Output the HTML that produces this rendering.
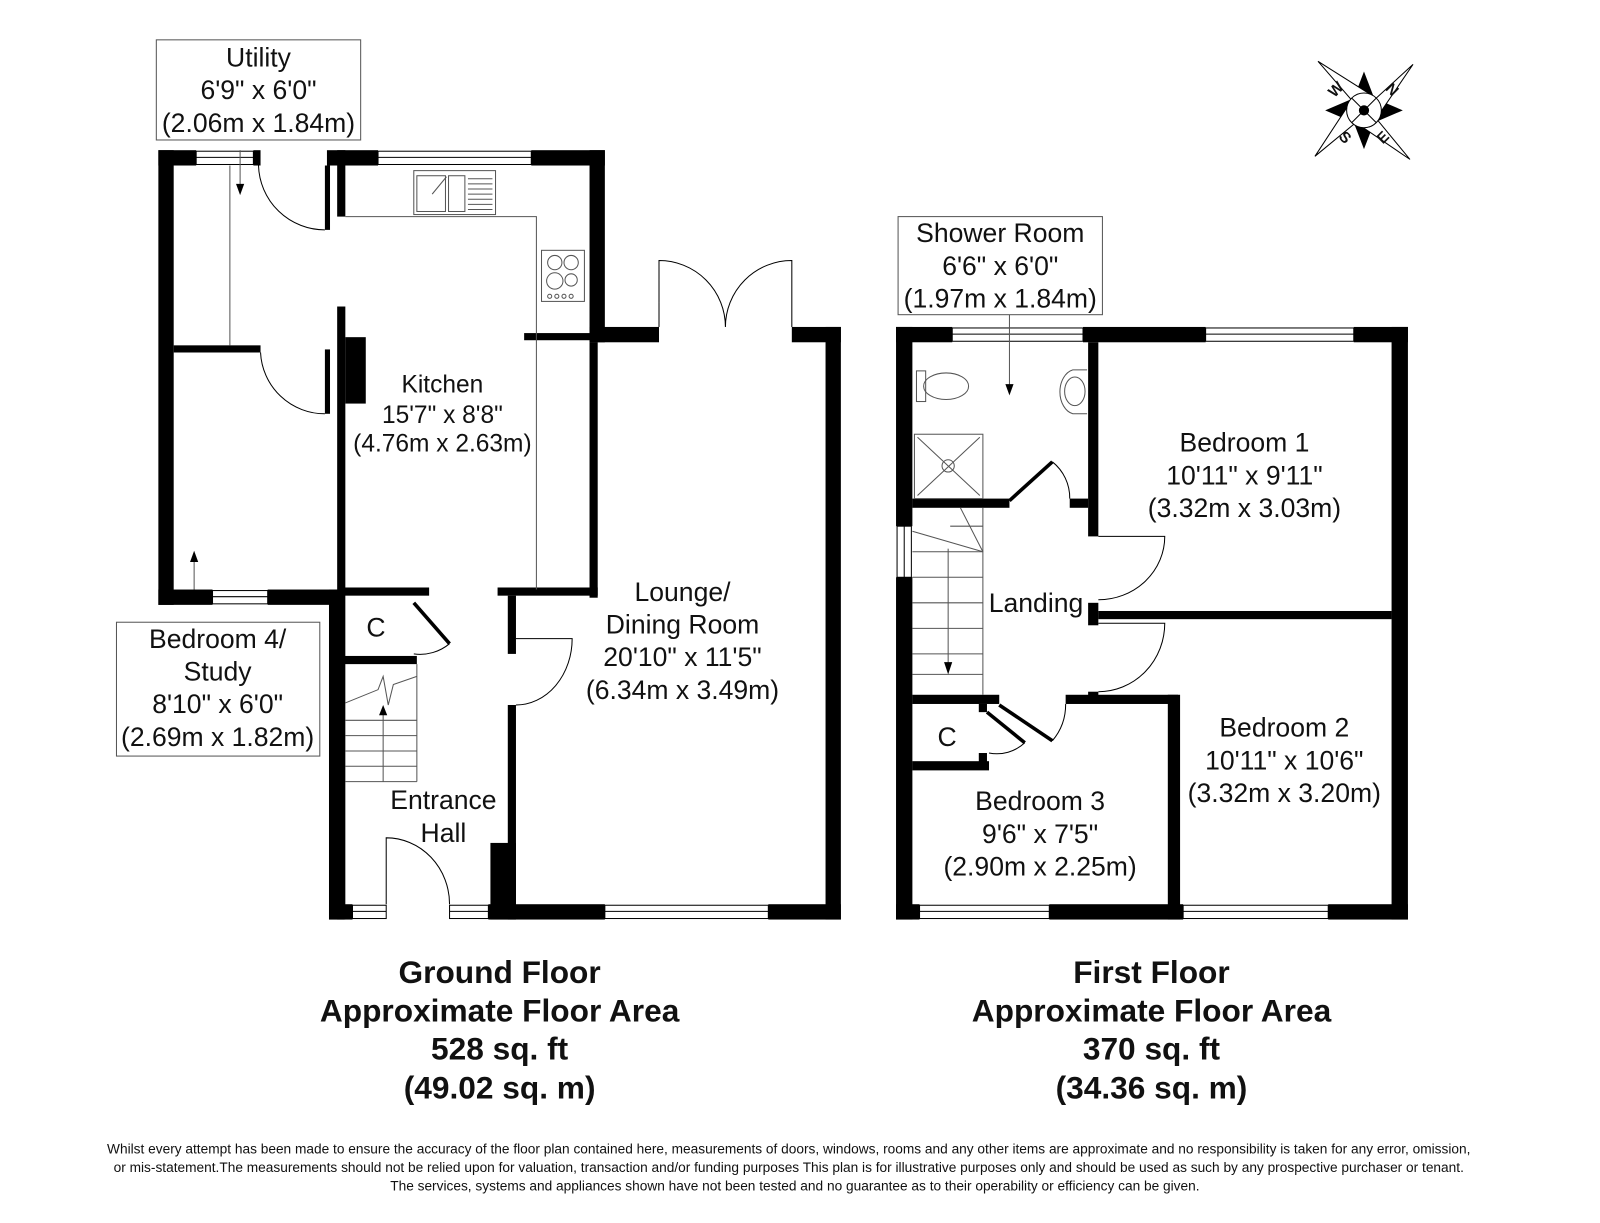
<!DOCTYPE html>
<html><head><meta charset="utf-8"><style>html,body{margin:0;padding:0;background:#fff}svg{display:block}text{font-family:"Liberation Sans",Arial,sans-serif;fill:#111}</style></head><body>
<svg width="1600" height="1223" viewBox="0 0 1566 1197" preserveAspectRatio="none" xmlns="http://www.w3.org/2000/svg">
<rect width="1566" height="1197" fill="#fff"/>
<g fill="#000">
<rect x="155" y="147" width="15" height="445"/>
<rect x="155" y="147" width="37" height="15"/>
<rect x="248" y="147" width="7" height="15"/>
<rect x="170" y="338" width="85" height="7"/>
<rect x="155" y="577" width="53" height="15"/>
<rect x="262" y="577" width="75" height="15"/>
<rect x="318" y="162" width="5" height="63"/>
<rect x="318" y="342" width="5" height="63"/>
<rect x="320" y="147" width="50" height="15"/>
<rect x="520" y="147" width="72" height="15"/>
<rect x="330" y="147" width="8" height="65"/>
<rect x="330" y="300" width="8" height="600"/>
<rect x="338" y="330" width="20" height="65"/>
<rect x="322" y="577" width="15" height="323"/>
<rect x="577" y="147" width="15" height="188"/>
<rect x="513" y="326" width="64" height="7"/>
<rect x="577" y="320" width="68" height="15"/>
<rect x="577" y="335" width="8" height="250"/>
<rect x="775" y="320" width="48" height="15"/>
<rect x="808" y="320" width="15" height="580"/>
<rect x="337" y="575" width="83" height="8"/>
<rect x="487" y="575" width="98" height="8"/>
<rect x="497" y="583" width="8" height="57"/>
<rect x="497" y="690" width="8" height="210"/>
<rect x="480" y="825" width="25" height="75"/>
<rect x="337" y="642" width="71" height="8"/>
<rect x="322" y="885" width="23" height="15"/>
<rect x="478" y="885" width="114" height="15"/>
<rect x="752" y="885" width="71" height="15"/>
<rect x="877" y="320" width="16" height="195"/>
<rect x="877" y="565" width="16" height="335"/>
<rect x="877" y="320" width="55" height="15"/>
<rect x="1060" y="320" width="120" height="15"/>
<rect x="1325" y="320" width="53" height="15"/>
<rect x="1362" y="320" width="16" height="580"/>
<rect x="877" y="885" width="23" height="15"/>
<rect x="1027" y="885" width="131" height="15"/>
<rect x="1300" y="885" width="78" height="15"/>
<rect x="1065" y="335" width="10" height="190"/>
<rect x="1065" y="590" width="10" height="22"/>
<rect x="1065" y="677" width="10" height="5"/>
<rect x="1075" y="598" width="287" height="8"/>
<rect x="893" y="488" width="95" height="9"/>
<rect x="1047" y="488" width="18" height="9"/>
<rect x="893" y="680" width="85" height="9"/>
<rect x="958" y="689" width="8" height="8"/>
<rect x="1043" y="680" width="110" height="9"/>
<rect x="1143" y="680" width="12" height="220"/>
<rect x="893" y="745" width="75" height="9"/>
<rect x="958" y="737" width="8" height="10"/>
</g>
<g fill="none" stroke="#000" stroke-width="1">
<rect x="192" y="148" width="56" height="13"/><line x1="192" y1="154" x2="248" y2="154"/>
<rect x="208" y="578" width="54" height="13"/><line x1="208" y1="584" x2="262" y2="584"/>
<rect x="370" y="148" width="150" height="13"/><line x1="370" y1="154" x2="520" y2="154"/>
<rect x="592" y="886" width="160" height="13"/><line x1="592" y1="892" x2="752" y2="892"/>
<rect x="345" y="886" width="33" height="13"/><line x1="345" y1="892" x2="378" y2="892"/>
<rect x="440" y="886" width="38" height="13"/><line x1="440" y1="892" x2="478" y2="892"/>
<rect x="932" y="321" width="128" height="13"/><line x1="932" y1="327" x2="1060" y2="327"/>
<rect x="1180" y="321" width="145" height="13"/><line x1="1180" y1="327" x2="1325" y2="327"/>
<rect x="900" y="886" width="127" height="13"/><line x1="900" y1="892" x2="1027" y2="892"/>
<rect x="1158" y="886" width="142" height="13"/><line x1="1158" y1="892" x2="1300" y2="892"/>
<rect x="878" y="515" width="14" height="50"/><line x1="885" y1="515" x2="885" y2="565"/>
<path d="M253 162 A65 65 0 0 0 318 225"/>
<path d="M255 345 A63 63 0 0 0 318 405"/>
<path d="M645 320 V255 A65 65 0 0 1 710 320 A65 65 0 0 1 775 255 V320"/>
<path d="M505 625 H560 A55 65 0 0 1 505 690"/>
<path d="M378 885 V820 A62 65 0 0 1 440 885"/>
<path d="M440 630 A45 45 0 0 1 405 640"/>
<path d="M1075 525 H1140 A65 62 0 0 1 1075 587"/>
<path d="M1075 610 H1140 A65 67 0 0 1 1075 677"/>
<path d="M1030 452 A45 45 0 0 1 1047 488"/>
<path d="M1030 725 A55 55 0 0 0 1043 689"/>
<path d="M1003 727 A40 40 0 0 1 968 737"/>
</g>
<g stroke="#000" stroke-width="3.5" fill="none">
<line x1="405" y1="590" x2="440" y2="630"/>
<line x1="988" y1="490" x2="1030" y2="452"/>
<line x1="978" y1="690" x2="1030" y2="725"/>
<line x1="966" y1="697" x2="1003" y2="727"/>
</g>
<g fill="none" stroke="#555" stroke-width="1">
<line x1="225" y1="162" x2="225" y2="338"/>
<path d="M338 212 H525 V577"/>
<rect x="530" y="245" width="42" height="50"/>
<circle cx="543" cy="257" r="7"/><circle cx="559" cy="257" r="7"/><circle cx="543" cy="275" r="8"/><circle cx="559" cy="274" r="6"/>
<circle cx="538" cy="290" r="2"/><circle cx="545" cy="290" r="2"/><circle cx="552" cy="290" r="2"/><circle cx="559" cy="290" r="2"/>
<rect x="405" y="167" width="80" height="43"/>
<rect x="408" y="172" width="28" height="35"/><rect x="439" y="172" width="16" height="35"/>
<line x1="458" y1="175" x2="482" y2="175"/><line x1="458" y1="180" x2="482" y2="180"/><line x1="458" y1="185" x2="482" y2="185"/><line x1="458" y1="190" x2="482" y2="190"/><line x1="458" y1="195" x2="482" y2="195"/><line x1="458" y1="200" x2="482" y2="200"/><line x1="458" y1="205" x2="482" y2="205"/>
<line x1="423" y1="190" x2="437" y2="173"/>
<path d="M338 688 L370 675 L375 662 L380 690 L385 670 L408 662"/>
<line x1="408" y1="650" x2="408" y2="765"/>
<line x1="338" y1="705" x2="408" y2="705"/><line x1="338" y1="720" x2="408" y2="720"/><line x1="338" y1="735" x2="408" y2="735"/><line x1="338" y1="750" x2="408" y2="750"/><line x1="338" y1="765" x2="408" y2="765"/>
<line x1="375" y1="765" x2="375" y2="698"/>
<rect x="895" y="425" width="67" height="63"/><line x1="898" y1="428" x2="959" y2="485"/><line x1="959" y1="428" x2="898" y2="485"/>
<circle cx="928" cy="456" r="6"/>
<rect x="897" y="363" width="9" height="30"/><ellipse cx="926" cy="378" rx="22" ry="13"/>
<path d="M1064 362 H1050 A16 22 0 0 0 1050 405 H1064"/><ellipse cx="1052" cy="383" rx="10" ry="14"/>
<line x1="962" y1="497" x2="962" y2="680"/>
<line x1="893" y1="540" x2="962" y2="540"/><line x1="893" y1="565" x2="962" y2="565"/>
<line x1="930" y1="515" x2="962" y2="515"/><line x1="893" y1="590" x2="962" y2="590"/><line x1="893" y1="615" x2="962" y2="615"/><line x1="893" y1="640" x2="962" y2="640"/><line x1="893" y1="660" x2="962" y2="660"/>
<line x1="940" y1="497" x2="962" y2="540"/><path d="M893 520 L962 540"/>
<line x1="928" y1="537" x2="928" y2="650"/>
<line x1="235" y1="147" x2="235" y2="182"/>
<line x1="190" y1="577" x2="190" y2="548"/>
<line x1="988" y1="308" x2="988" y2="378"/>
<rect x="153" y="39" width="200" height="98"/>
<rect x="114" y="609" width="199" height="131"/>
<rect x="879" y="212" width="200" height="96"/>
</g>
<g fill="#000">
<path d="M231 180 L239 180 L235 191Z"/>
<path d="M186 550 L194 550 L190 539Z"/>
<path d="M371 700 L379 700 L375 690Z"/>
<path d="M924 648 L932 648 L928 660Z"/>
<path d="M984 376 L992 376 L988 387Z"/>
</g>
<g transform="translate(1335,108)">
<path d="M0 -38 L10 -12 L38 0 L10 12 L0 38 L-10 12 L-38 0 L-10 -12Z" fill="#000"/>
<path d="M-45 -48 L12 -12 L48 -45 L12 8 L45 48 L-8 12 L-48 45 L-12 -10Z" fill="#fff" stroke="#000" stroke-width="1"/>
<circle r="17" fill="#fff" stroke="#000"/>
<line x1="-12" y1="-12" x2="12" y2="12" stroke="#000"/><line x1="12" y1="-12" x2="-12" y2="12" stroke="#000"/>
<circle r="5" fill="#000"/>
<text x="-24" y="-17" font-size="15" font-weight="bold" transform="rotate(-45 -24 -17)" text-anchor="middle">W</text>
<text x="24" y="-17" font-size="15" font-weight="bold" transform="rotate(45 24 -17)" text-anchor="middle">N</text>
<text x="-22" y="30" font-size="15" font-weight="bold" transform="rotate(45 -22 30)" text-anchor="middle">S</text>
<text x="22" y="30" font-size="15" font-weight="bold" transform="rotate(-45 22 30)" text-anchor="middle">E</text>
</g>
<g font-size="26" text-anchor="middle">
<text x="253" y="65">Utility</text><text x="253" y="97">6'9" x 6'0"</text><text x="253" y="129">(2.06m x 1.84m)</text>
<text x="213" y="634">Bedroom 4/</text><text x="213" y="666">Study</text><text x="213" y="698">8'10" x 6'0"</text><text x="213" y="730">(2.69m x 1.82m)</text>
<text x="433" y="384" font-size="24">Kitchen</text><text x="433" y="414" font-size="24">15'7" x 8'8"</text><text x="433" y="442" font-size="24">(4.76m x 2.63m)</text>
<text x="668" y="588">Lounge/</text><text x="668" y="620">Dining Room</text><text x="668" y="652">20'10" x 11'5"</text><text x="668" y="684">(6.34m x 3.49m)</text>
<text x="368" y="623">C</text>
<text x="434" y="792">Entrance</text><text x="434" y="824">Hall</text>
<text x="979" y="237">Shower Room</text><text x="979" y="269">6'6" x 6'0"</text><text x="979" y="301">(1.97m x 1.84m)</text>
<text x="1218" y="442">Bedroom 1</text><text x="1218" y="474">10'11" x 9'11"</text><text x="1218" y="506">(3.32m x 3.03m)</text>
<text x="1014" y="599">Landing</text>
<text x="1257" y="721">Bedroom 2</text><text x="1257" y="753">10'11" x 10'6"</text><text x="1257" y="785">(3.32m x 3.20m)</text>
<text x="927" y="730">C</text>
<text x="1018" y="793">Bedroom 3</text><text x="1018" y="825">9'6" x 7'5"</text><text x="1018" y="857">(2.90m x 2.25m)</text>
</g>
<g font-size="31" font-weight="bold" text-anchor="middle">
<text x="489" y="962">Ground Floor</text><text x="489" y="1000">Approximate Floor Area</text><text x="489" y="1037">528 sq. ft</text><text x="489" y="1075">(49.02 sq. m)</text>
<text x="1127" y="962">First Floor</text><text x="1127" y="1000">Approximate Floor Area</text><text x="1127" y="1037">370 sq. ft</text><text x="1127" y="1075">(34.36 sq. m)</text>
</g>
<g font-size="13.4" text-anchor="middle">
<text x="772" y="1129">Whilst every attempt has been made to ensure the accuracy of the floor plan contained here, measurements of doors, windows, rooms and any other items are approximate and no responsibility is taken for any error, omission,</text>
<text x="772" y="1147">or mis-statement.The measurements should not be relied upon for valuation, transaction and/or funding purposes This plan is for illustrative purposes only and should be used as such by any prospective purchaser or tenant.</text>
<text x="778" y="1165">The services, systems and appliances shown have not been tested and no guarantee as to their operability or efficiency can be given.</text>
</g>
</svg>
</body></html>
